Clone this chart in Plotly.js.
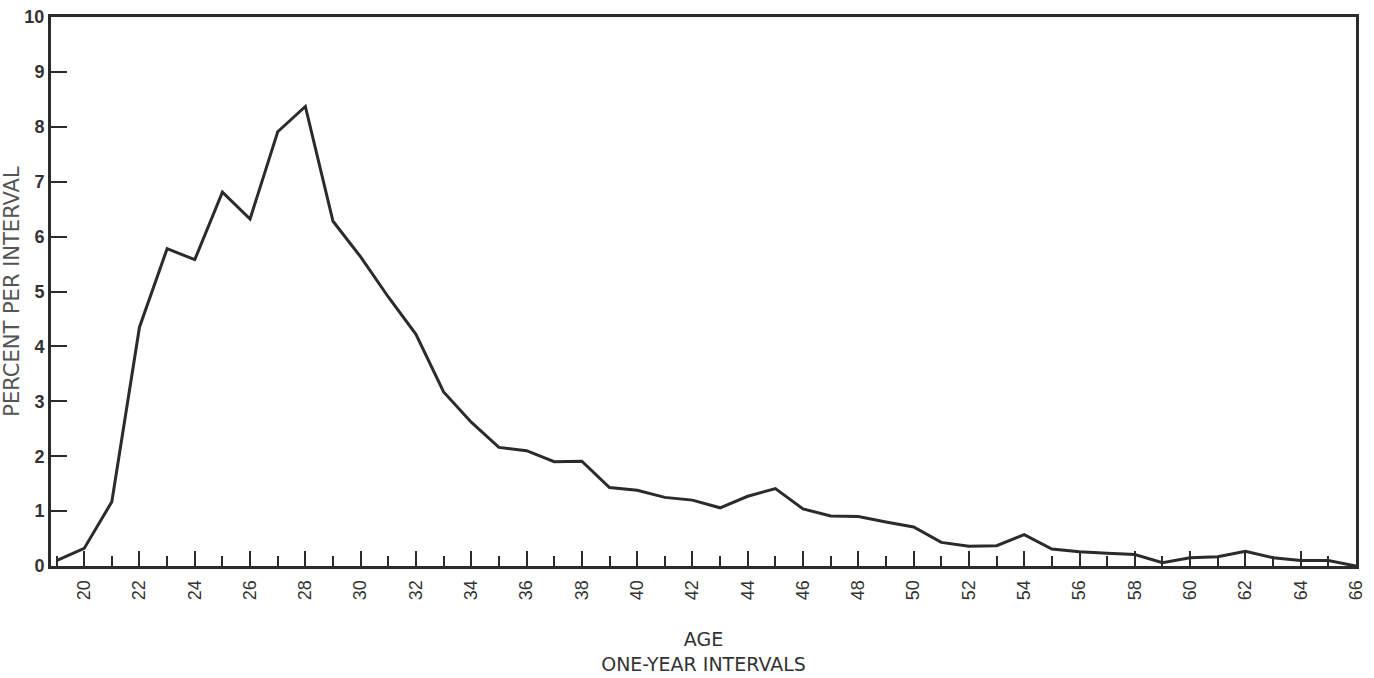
<!DOCTYPE html>
<html>
<head>
<meta charset="utf-8">
<script src="https://cdn.plot.ly/plotly-3.0.1.min.js"></script>
<style>html,body{margin:0;padding:0;background:#fff;}#chart{width:1374px;height:678px;}</style>
</head>
<body>
<div id="chart"></div>
<script>
const ages = [19,20,21,22,23,24,25,26,27,28,29,30,31,32,33,34,35,36,37,38,39,40,41,42,43,44,45,46,47,48,49,50,51,52,53,54,55,56,57,58,59,60,61,62,63,64,65,66];
const percentPerInterval = [0.1,0.32,1.17,4.35,5.78,5.58,6.81,6.32,7.91,8.37,6.28,5.63,4.9,4.22,3.17,2.62,2.16,2.1,1.9,1.91,1.43,1.38,1.25,1.2,1.06,1.27,1.41,1.04,0.91,0.9,0.8,0.71,0.43,0.36,0.37,0.57,0.31,0.26,0.23,0.21,0.06,0.15,0.17,0.27,0.15,0.1,0.1,0.0];
const xTickVals = [20,22,24,26,28,30,32,34,36,38,40,42,44,46,48,50,52,54,56,58,60,62,64,66];
const yTickVals = [0,1,2,3,4,5,6,7,8,9,10];
const xTitle = 'AGE<br>ONE-YEAR INTERVALS';
const yTitle = 'PERCENT PER INTERVAL';

const ink = '#2b2b2b';
const trace = {
  x: ages, y: percentPerInterval, type: 'scatter', mode: 'lines',
  line: {color: ink, width: 3}, hoverinfo: 'skip'
};
const layout = {
  width: 1374, height: 678,
  margin: {l: 51, r: 18, t: 17, b: 112},
  paper_bgcolor: '#ffffff', plot_bgcolor: '#ffffff',
  showlegend: false,
  font: {family: '"Liberation Sans", Arial, sans-serif', color: '#333'},
  xaxis: {
    range: [18.8, 66], tickvals: xTickVals, ticktext: xTickVals.map(String),
    ticks: 'inside', ticklen: 15, tickwidth: 2, tickcolor: ink,
    tickangle: -90, tickfont: {size: 18, color: '#333'},
    ticklabelstandoff: 4,
    showgrid: false, zeroline: false,
    showline: true, linecolor: ink, linewidth: 3, mirror: true,
    minor: {tick0: 19, dtick: 1, ticks: 'inside', ticklen: 10, tickwidth: 2, tickcolor: ink, showgrid: false},
    title: {text: xTitle, font: {family: '"DejaVu Sans", sans-serif', size: 19, color: '#333'}, standoff: 34}
  },
  yaxis: {
    range: [0, 10], tickvals: yTickVals, ticktext: yTickVals.map(String),
    ticks: 'inside', ticklen: 16, tickwidth: 2, tickcolor: ink,
    tickfont: {size: 18, color: '#333', weight: 'bold'},
    showgrid: false, zeroline: false,
    showline: true, linecolor: ink, linewidth: 3, mirror: true,
    title: {text: yTitle, font: {family: '"DejaVu Sans", sans-serif', size: 21, color: '#555'}, standoff: 0}
  }
};
Plotly.newPlot('chart', [trace], layout, {displayModeBar: false, staticPlot: true});
</script>
</body>
</html>
